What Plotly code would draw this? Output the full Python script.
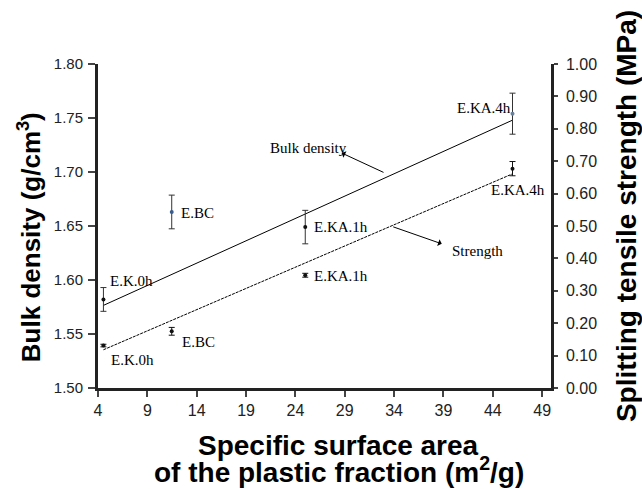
import plotly.graph_objects as go

# ---- data ----
ssa = [4.55, 11.47, 25.0, 46.0]                      # specific surface area (m2/g)
labels = ["E.K.0h", "E.BC", "E.KA.1h", "E.KA.4h"]
bulk_density = [1.582, 1.663, 1.649, 1.754]           # g/cm3
bulk_err = [0.011, 0.0156, 0.0155, 0.019]
strength = [0.131, 0.175, 0.348, 0.677]               # MPa
strength_err = [0.004, 0.012, 0.006, 0.022]

fit_x = [4.55, 46.0]
bulk_fit = [1.5765, 1.748]
strength_fit = [0.118, 0.661]

x_ticks = [4, 9, 14, 19, 24, 29, 34, 39, 44, 49]
y1_ticks = [1.50, 1.55, 1.60, 1.65, 1.70, 1.75, 1.80]
y2_ticks = [0.0, 0.1, 0.2, 0.3, 0.4, 0.5, 0.6, 0.7, 0.8, 0.9, 1.0]

# label placement (data coords) for point annotations
bulk_lab_x = [5.0, 12.2, 25.7, 46.06]
bulk_lab_y = [1.599, 1.662, 1.649, 1.759]
bulk_lab_anchor = ["left", "left", "left", "right"]
str_lab_x = [5.1, 12.35, 25.7, 43.65]
str_lab_y = [0.087, 0.141, 0.347, 0.612]

SANS = "Liberation Sans, Arial, sans-serif"
SERIF = "Liberation Serif, Times New Roman, serif"

fig = go.Figure()

fig.add_trace(go.Scatter(x=fit_x, y=bulk_fit, mode="lines",
                         line=dict(color="black", width=1), yaxis="y", showlegend=False))
fig.add_trace(go.Scatter(x=fit_x, y=strength_fit, mode="lines",
                         line=dict(color="black", width=1, dash="3px,1px"), yaxis="y2",
                         showlegend=False))

fig.add_trace(go.Scatter(
    x=ssa, y=bulk_density, mode="markers", yaxis="y", showlegend=False,
    marker=dict(size=4, color=["#111111", "#3a5d8c", "#111111", "#6a7f99"]),
    error_y=dict(type="data", array=bulk_err, color="#333333", thickness=1, width=3)))
fig.add_trace(go.Scatter(
    x=ssa, y=strength, mode="markers", yaxis="y2", showlegend=False,
    marker=dict(size=4, color="#111111"),
    error_y=dict(type="data", array=strength_err, color="#111111", thickness=1, width=3)))

ann = []
for lx, ly, t, a in zip(bulk_lab_x, bulk_lab_y, labels, bulk_lab_anchor):
    ann.append(dict(x=lx, y=ly, xref="x", yref="y", text=t, showarrow=False,
                    xanchor=a, yanchor="middle", font=dict(family=SERIF, size=15, color="black")))
for lx, ly, t in zip(str_lab_x, str_lab_y, labels):
    ann.append(dict(x=lx, y=ly, xref="x", yref="y2", text=t, showarrow=False,
                    xanchor="left", yanchor="middle", font=dict(family=SERIF, size=15, color="black")))

# curve labels
ann.append(dict(x=21.2, y=1.7225, xref="x", yref="y", text="Bulk density", showarrow=False,
                xanchor="left", yanchor="middle", font=dict(family=SERIF, size=15, color="black")))
ann.append(dict(x=28.69, y=1.7176, xref="x", yref="y", ax=33.08, ay=1.699, axref="x", ayref="y",
                text="", showarrow=True, arrowhead=1, arrowsize=1.2, arrowwidth=1, arrowcolor="black"))
ann.append(dict(x=39.67, y=0.424, xref="x", yref="y2", text="Strength", showarrow=False,
                xanchor="left", yanchor="middle", font=dict(family=SERIF, size=15, color="black")))
ann.append(dict(x=38.83, y=0.445, xref="x", yref="y2", ax=33.76, ay=0.499, axref="x", ayref="y2",
                text="", showarrow=True, arrowhead=1, arrowsize=1.2, arrowwidth=1, arrowcolor="black"))

# axis titles
ann.append(dict(x=-0.152, y=0.466, xref="paper", yref="paper", text="Bulk density (g/cm<sup>3</sup>)",
                textangle=-90, showarrow=False, xanchor="center", yanchor="middle",
                font=dict(family=SANS, size=26, color="black", weight="bold")))
ann.append(dict(x=1.168, y=0.531, xref="paper", yref="paper", text="Splitting tensile strength (MPa)",
                textangle=-90, showarrow=False, xanchor="center", yanchor="middle",
                font=dict(family=SANS, size=28, color="black", weight="bold")))
ann.append(dict(x=0.531, y=-0.176, xref="paper", yref="paper", text="Specific surface area",
                showarrow=False, xanchor="center", yanchor="middle",
                font=dict(family=SANS, size=28, color="black", weight="bold")))
ann.append(dict(x=0.531, y=-0.253, xref="paper", yref="paper",
                text="of the plastic fraction (m<sup>2</sup>/g)",
                showarrow=False, xanchor="center", yanchor="middle",
                font=dict(family=SANS, size=28, color="black", weight="bold")))

fig.update_layout(
    width=642, height=489,
    margin=dict(l=98, r=91, t=64, b=101),
    plot_bgcolor="white", paper_bgcolor="white",
    annotations=ann,
    xaxis=dict(range=[4, 49.9], tickvals=x_ticks, ticks="outside", ticklen=6, tickwidth=2,
               showline=True, linewidth=3, linecolor="#222", showgrid=False, zeroline=False,
               tickfont=dict(family=SANS, size=16, color="#222")),
    yaxis=dict(range=[1.5, 1.8], tickvals=y1_ticks, tickformat=".2f", ticks="outside",
               ticklen=7, tickwidth=2, showline=True, linewidth=3, linecolor="#222",
               ticklabelstandoff=2,
               showgrid=False, zeroline=False, tickfont=dict(family=SANS, size=15, color="#222")),
    yaxis2=dict(range=[0, 1.0], tickvals=y2_ticks, tickformat=".2f", overlaying="y", side="right",
                ticks="outside", ticklen=4, tickwidth=2, showline=True, linewidth=2.5,
                ticklabelstandoff=5,
                linecolor="#222", showgrid=False, zeroline=False,
                tickfont=dict(family=SANS, size=16, color="#222")),
)

fig.write_html("out.html")
